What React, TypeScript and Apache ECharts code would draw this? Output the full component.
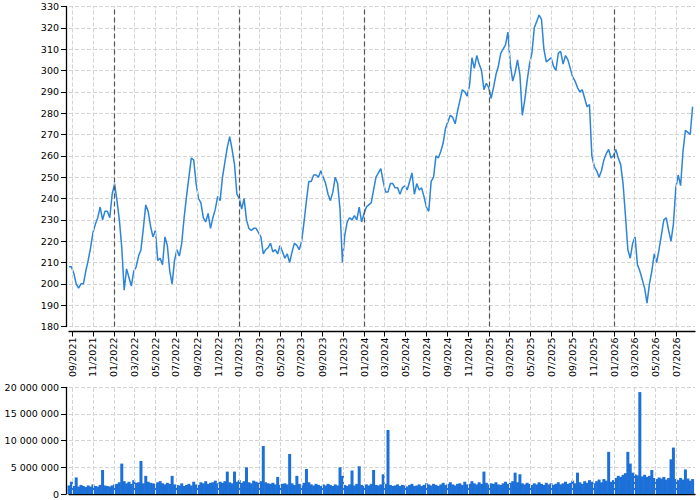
import React, { useEffect, useRef } from 'react';
import * as echarts from 'echarts';

const START_DATE = '2021-08-23';
const END_DATE = '2026-08-24';
const STEP_DAYS = 7;

// weekly closing price
const PRICE = [
  208, 208, 205, 200, 198, 200, 200, 206, 211, 217, 224, 228, 231, 236, 230, 234, 234, 231, 242, 247, 239, 230, 217, 197, 207, 203, 199, 206, 208, 213, 216, 226, 237, 234, 227, 222, 225, 211, 212, 209, 222, 218, 206,
  200, 211, 216, 213, 219, 231, 241, 250, 259, 258, 247, 240, 238, 231, 229, 233, 226, 231, 235, 241, 239, 250, 257, 264, 269, 263, 256, 242, 240, 235, 240, 230, 226, 225, 226, 226, 224, 222, 214, 216, 217, 219, 215, 216,
  214, 218, 215, 212, 214, 210, 215, 219, 218, 216, 220, 229, 239, 248, 248, 251, 251, 250, 253, 250, 247, 242, 239, 243, 250, 247, 235, 210, 223, 229, 231, 230, 232, 230, 236, 229, 233, 236, 237, 238, 244, 250, 252,
  254, 248, 243, 243, 247, 247, 245, 245, 242, 245, 246, 244, 248, 252, 242, 247, 244, 245, 241, 236, 234, 248, 250, 260, 259, 262, 266, 273, 276, 279, 278, 275, 281, 286, 291, 290, 288, 293, 306, 301, 307, 303, 300, 291,
  294, 292, 287, 292, 298, 302, 308, 310, 312, 318, 303, 295, 299, 305, 298, 279, 286, 295, 303, 308, 320, 323, 326, 324, 310, 304, 305, 306, 302, 300, 308, 309, 303, 307, 305, 301, 297, 295, 292, 290, 291, 287, 283, 284,
  260, 255, 253, 250, 253, 258, 261, 263, 259, 260, 263, 259, 256, 247, 232, 216, 212, 219, 222, 209, 206, 202, 198, 191, 200, 206, 214, 210, 216, 223, 230, 231, 225, 220, 228, 245, 251, 246, 262, 272, 271, 270, 283,
];

// weekly volume, in millions of shares
const VOLUME_M = [
  1.6, 2.3, 1.5, 3.1, 1.4, 1.7, 1.5, 1.3, 1.6, 1.4, 1.8, 1.5, 1.4, 1.7, 4.5, 1.6, 1.5, 1.4, 1.6, 1.8,
  1.9, 2.2, 5.7, 2.4, 2.0, 2.3, 1.9, 2.6, 2.1, 2.2, 6.2, 2.0, 3.4, 2.3, 2.1, 2.0, 1.9, 2.2, 2.4, 2.0,
  1.8, 2.1, 1.9, 3.4, 1.8, 1.7, 1.6, 2.0, 1.5, 1.7, 1.9, 1.6, 2.3, 1.8, 1.7, 2.2, 2.0, 2.4, 1.9, 2.1,
  2.2, 2.5, 2.0, 2.3, 2.1, 2.4, 4.2, 2.2, 2.0, 4.2, 2.3, 2.6, 2.1, 2.4, 5.0, 2.2, 2.0, 2.5, 2.3, 2.1,
  2.4, 9.0, 2.2, 2.0, 1.9, 2.1, 1.8, 3.2, 1.7, 1.9, 2.0, 1.8, 7.5, 2.0, 1.7, 3.4, 1.9, 1.6, 2.1, 4.7,
  2.2, 1.8, 1.6, 1.9, 1.7, 1.5, 1.8, 1.6, 1.9, 1.7, 1.5, 1.8, 1.6, 5.0, 3.4, 1.7, 1.5, 1.8, 4.4, 1.6,
  1.9, 5.2, 1.7, 1.5, 1.8, 1.6, 1.9, 4.5, 1.7, 1.6, 1.8, 3.7, 1.9, 12.0, 1.7, 1.5, 1.6, 1.8, 1.5, 1.7,
  1.6, 1.4, 1.7, 1.9, 1.5, 1.6, 1.8, 1.5, 1.7, 2.0, 1.8, 1.6, 1.9, 1.7, 1.5, 1.8, 2.1, 1.7, 1.9, 2.2,
  1.8, 1.6, 1.9, 2.0, 1.7, 2.3, 1.8, 1.9, 2.4, 2.0, 1.8, 2.2, 1.9, 4.2, 2.1, 1.8, 2.0, 1.9, 2.2, 1.8,
  1.7, 2.0, 2.3, 1.9, 2.1, 2.4, 4.0, 2.2, 3.7, 2.0, 1.8, 2.1, 1.9, 1.7, 2.0, 1.8, 2.2, 1.9, 1.7, 2.1,
  1.8, 2.0, 1.7, 1.9, 2.2, 1.8, 2.0, 2.3, 1.9, 2.1, 2.5, 2.0, 4.0, 2.2, 1.9, 2.4, 2.1, 2.6, 2.3, 2.0,
  2.4, 2.7, 2.2, 2.8, 2.5, 7.9, 2.3, 2.6, 3.0, 3.4, 3.2, 3.6, 3.9, 7.9, 5.7, 4.0, 3.7, 3.5, 19.1, 3.3,
  3.6, 3.2, 3.4, 4.5, 3.0, 2.8, 3.1, 2.9, 3.2, 2.7, 3.0, 6.5, 8.7, 2.8, 2.6, 3.0, 2.7, 4.6, 2.9, 2.5, 2.8,
];

const TICK_MONTHS = [
  '2021-09-01', '2021-11-01',
  '2022-01-01', '2022-03-01', '2022-05-01', '2022-07-01', '2022-09-01', '2022-11-01',
  '2023-01-01', '2023-03-01', '2023-05-01', '2023-07-01', '2023-09-01', '2023-11-01',
  '2024-01-01', '2024-03-01', '2024-05-01', '2024-07-01', '2024-09-01', '2024-11-01',
  '2025-01-01', '2025-03-01', '2025-05-01', '2025-07-01', '2025-09-01', '2025-11-01',
  '2026-01-01', '2026-03-01', '2026-05-01', '2026-07-01',
];

const YEAR_MARKS = ['2022-01-01', '2023-01-01', '2024-01-01', '2025-01-01', '2026-01-01'];

const PRICE_MIN = 180;
const PRICE_MAX = 330;
const PRICE_STEP = 10;
const VOL_MAX = 20000000;
const VOL_STEP = 5000000;

const DAY = 86400000;
const FONT = 'DejaVu Sans';

export default function App() {
  const ref = useRef<HTMLDivElement>(null);

  useEffect(() => {
    if (!ref.current) return;
    const chart = echarts.init(ref.current, undefined, { renderer: 'svg' });
    const start = Date.parse(START_DATE);
    const end = Date.parse(END_DATE);
    const dates = PRICE.map((_, i) => start + i * STEP_DAYS * DAY);
    const ticks = TICK_MONTHS.map((d) => Date.parse(d));
    const priceData = PRICE.map((v, i) => [dates[i], v]);
    const volData = VOLUME_M.map((v, i) => [dates[i], Math.round(v * 1000000)]);

    const fmtMonth = (v: number) => {
      const d = new Date(v);
      return String(d.getUTCMonth() + 1).padStart(2, '0') + '/' + d.getUTCFullYear();
    };
    const fmtVol = (v: number) => String(v).replace(/\B(?=(\d{3})+(?!\d))/g, ' ');

    const gridLineStyle = { color: '#d4d4d4', type: [4, 2] as any, width: 1 };
    const split = { show: true, lineStyle: gridLineStyle };
    const axisLine = { show: true, onZero: false, lineStyle: { color: '#000', width: 1.3 } };
    const labelBase = { color: '#000', fontFamily: FONT, fontSize: 9.5 };
    const vGrid = (xi: number, yi: number) => ({
      type: 'line',
      xAxisIndex: xi,
      yAxisIndex: yi,
      data: [],
      z: 0,
      silent: true,
      markLine: {
        silent: true,
        symbol: 'none',
        label: { show: false },
        lineStyle: gridLineStyle,
        data: ticks.map((t) => ({ xAxis: t })),
      },
    });

    chart.setOption({
      animation: false,
      backgroundColor: '#fff',
      grid: [
        { left: 69, right: 5, top: 6.5, height: 320 },
        { left: 69, right: 5, top: 387.3, height: 106.7 },
      ],
      xAxis: [
        {
          type: 'value',
          gridIndex: 0,
          min: start,
          max: end,
          offset: 5,
          axisLine,
          axisTick: { show: true, length: 5, customValues: ticks, lineStyle: { color: '#000' } },
          axisLabel: {
            ...labelBase,
            customValues: ticks,
            rotate: 90,
            margin: 6,
            formatter: (v: number) => fmtMonth(v),
            hideOverlap: false,
            showMinLabel: true,
            showMaxLabel: true,
          },
          splitLine: { show: false },
        },
        {
          type: 'value',
          gridIndex: 1,
          min: start,
          max: end,
          axisLine,
          axisTick: { show: false },
          axisLabel: { show: false },
          splitLine: { show: false },
        },
      ],
      yAxis: [
        {
          type: 'value',
          gridIndex: 0,
          min: PRICE_MIN,
          max: PRICE_MAX,
          interval: PRICE_STEP,
          offset: 3,
          axisLine,
          axisTick: { show: true, length: 5, lineStyle: { color: '#000' } },
          axisLabel: { ...labelBase, margin: 7 },
          splitLine: split,
        },
        {
          type: 'value',
          gridIndex: 1,
          min: 0,
          max: VOL_MAX,
          interval: VOL_STEP,
          offset: 3,
          axisLine,
          axisTick: { show: true, length: 5, lineStyle: { color: '#000' } },
          axisLabel: { ...labelBase, margin: 7, formatter: (v: number) => fmtVol(v) },
          splitLine: split,
        },
      ],
      series: [
        vGrid(0, 0),
        vGrid(1, 1),
        {
          type: 'line',
          xAxisIndex: 0,
          yAxisIndex: 0,
          data: priceData,
          showSymbol: false,
          symbol: 'none',
          z: 3,
          lineStyle: { color: '#2d84d8', width: 1.5 },
          markLine: {
            silent: true,
            symbol: 'none',
            label: { show: false },
            lineStyle: { color: '#555', type: [5, 3] as any, width: 1.2 },
            data: YEAR_MARKS.map((d) => ({ xAxis: Date.parse(d) })),
          },
        },
        {
          type: 'bar',
          xAxisIndex: 1,
          yAxisIndex: 1,
          data: volData,
          barWidth: 3,
          z: 3,
          itemStyle: { color: '#1c70d8' },
        },
      ],
    });
    return () => chart.dispose();
  }, []);

  return (
    <div
      ref={ref}
      style={{ position: 'fixed', left: 0, top: 0, width: 700, height: 500, background: '#fff' }}
    />
  );
}
